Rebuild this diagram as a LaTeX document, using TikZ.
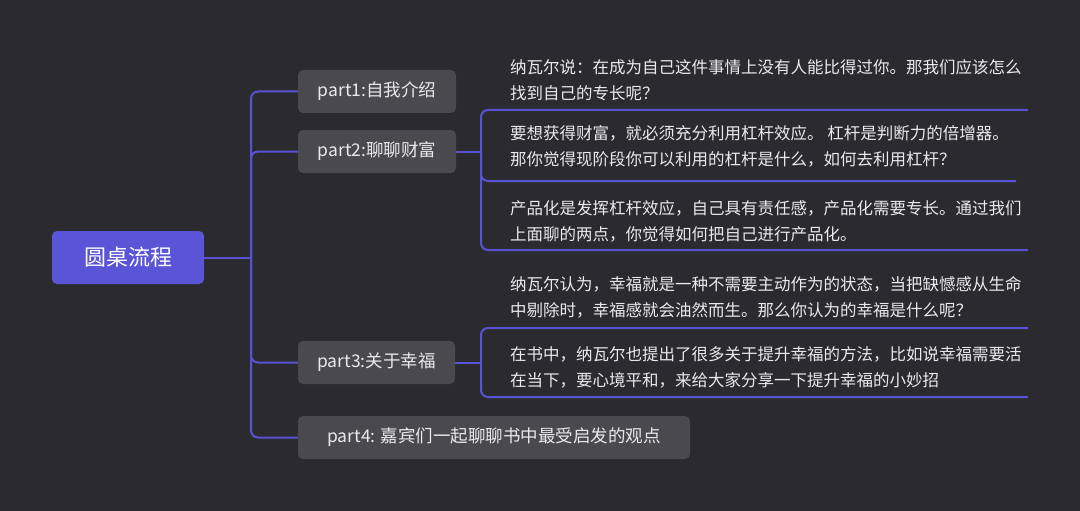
\documentclass[tikz,border=0pt]{standalone}
\usepackage{fontspec}
\setmainfont{Noto Sans CJK SC}
\definecolor{bg}{HTML}{2B2A2E}
\definecolor{partfill}{HTML}{4A494E}
\definecolor{rootfill}{HTML}{5A54D6}
\definecolor{linec}{HTML}{5A52D4}
\definecolor{txtc}{HTML}{EAEAEA}
\tikzset{
  rootbox/.style={rectangle, rounded corners=5pt, fill=rootfill, text=white, inner sep=0pt,
    minimum width=152pt, minimum height=53pt, font=\fontsize{22}{26}\selectfont},
  partbox/.style={rectangle, rounded corners=5pt, fill=partfill, text=txtc, inner sep=0pt,
    minimum height=43pt, font=\fontsize{17.5}{22}\selectfont},
  leaf/.style={inner sep=0pt, anchor=west, align=left, text=txtc, font=\fontsize{16.5}{26}\selectfont},
  conn/.style={draw=linec, line width=2pt},
  rconn/.style={conn, rounded corners=7pt}
}
\begin{document}
\begin{tikzpicture}[x=1pt,y=-1pt]
\fill[bg] (0,0) rectangle (1080,511);
\useasboundingbox (0,0) rectangle (1080,511);

% nodes
\node[rootbox] (root) at (128,257.5) {圆桌流程};
\node[partbox, minimum width=158pt] (p1) at (377,91.5) {part1:自我介绍};
\node[partbox, minimum width=158pt] (p2) at (377,151.5) {part2:聊聊财富};
\node[partbox, minimum width=157pt] (p3) at (376.5,362.5) {part3:关于幸福};
\node[partbox, minimum width=392pt] (p4) at (494,437.5) {part4: 嘉宾们一起聊聊书中最受启发的观点};

\node[leaf] (t1) at (510,80.5) {纳瓦尔说：在成为自己这件事情上没有人能比得过你。那我们应该怎么\\找到自己的专长呢？};
\node[leaf] (t2) at (510,146.5) {要想获得财富，就必须充分利用杠杆效应。 杠杆是判断力的倍增器。\\那你觉得现阶段你可以利用的杠杆是什么，如何去利用杠杆？};
\node[leaf] (t3) at (510,221.5) {产品化是发挥杠杆效应，自己具有责任感，产品化需要专长。通过我们\\上面聊的两点，你觉得如何把自己进行产品化。};
\node[leaf] (t4) at (510,297) {纳瓦尔认为，幸福就是一种不需要主动作为的状态，当把缺憾感从生命\\中剔除时，幸福感就会油然而生。那么你认为的幸福是什么呢？};
\node[leaf] (t5) at (510,367) {在书中，纳瓦尔也提出了很多关于提升幸福的方法，比如说幸福需要活\\在当下，要心境平和，来给大家分享一下提升幸福的小妙招};

% junction coordinates
\coordinate (j0) at (251,257.5);
\coordinate (j2) at (481,151.5);
\coordinate (j3) at (481,362.5);
\coordinate (e1) at (1028,110);
\coordinate (e2) at (1016,181);
\coordinate (e3) at (1028,250);
\coordinate (e4) at (1028,328);
\coordinate (e5) at (1028,397);

% trunk
\draw[conn] (root.east) -- (j0);
\draw[rconn] (j0) |- (p1.west);
\draw[rconn] (j0) |- (p2.west);
\draw[rconn] (j0) |- (p3.west);
\draw[rconn] (j0) |- (p4.west);

% part2 bracket
\draw[conn] (p2.east) -- (j2);
\draw[rconn] (j2) |- (e1);
\draw[rconn] (j2) |- (e2);
\draw[rconn] (j2) |- (e3);

% part3 bracket
\draw[conn] (p3.east) -- (j3);
\draw[rconn] (j3) |- (e4);
\draw[rconn] (j3) |- (e5);
\end{tikzpicture}
\end{document}
